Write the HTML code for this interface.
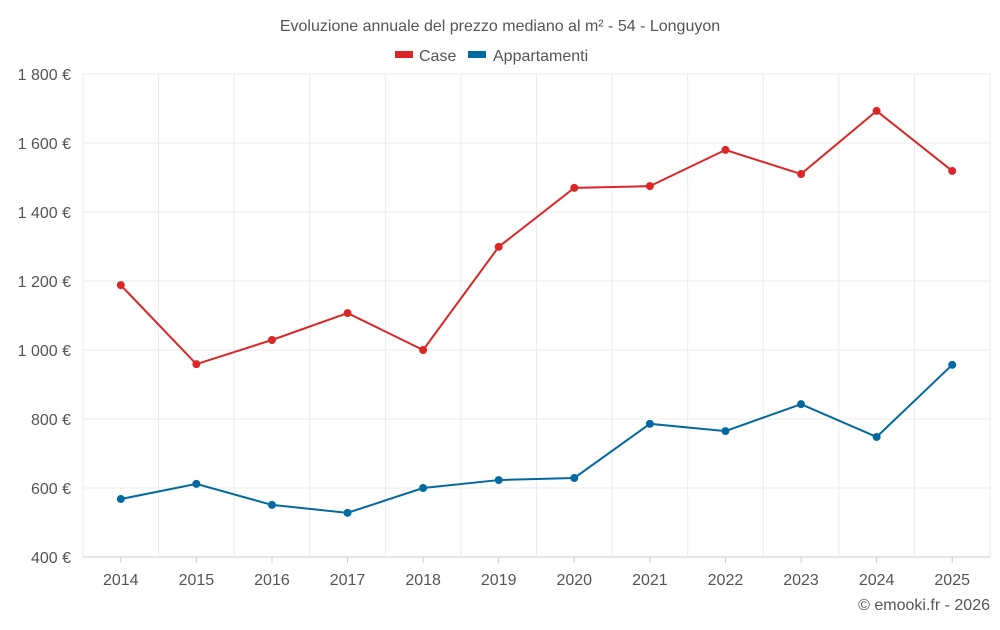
<!DOCTYPE html>
<html><head><meta charset="utf-8">
<style>
body{margin:0;background:#fff;width:1000px;height:625px;overflow:hidden;font-family:"Liberation Sans",sans-serif;}
svg text{font-family:"Liberation Sans",sans-serif;fill:#555;}
</style></head>
<body>
<svg id="chart" width="1000" height="625">
<text x="500" y="31" text-anchor="middle" font-size="16">Evoluzione annuale del prezzo mediano al m² - 54 - Longuyon</text>
<g>
<rect x="395" y="51" width="18" height="7" fill="#dc2626"/>
<text x="419" y="61" font-size="16">Case</text>
<rect x="468" y="51" width="18" height="7" fill="#0369a1"/>
<text x="493" y="61" font-size="16">Appartamenti</text>
</g>
<g id="grid"></g><g id="axes"></g><g id="series"></g>
<text x="990" y="610" text-anchor="end" font-size="16">© emooki.fr - 2026</text>
</svg>
<script>
const years=["2014","2015","2016","2017","2018","2019","2020","2021","2022","2023","2024","2025"];
const caseValues=[1188,959,1029,1107,1000,1299,1470,1475,1580,1510,1693,1519];
const appValues=[568,612,551,528,600,623,629,786,765,843,748,957];
const yTicks=[400,600,800,1000,1200,1400,1600,1800];
const yTickLabels=["400 €","600 €","800 €","1 000 €","1 200 €","1 400 €","1 600 €","1 800 €"];
const NS="http://www.w3.org/2000/svg";
const L=83,R=990,T=74,B=557,yMin=400,yMax=1800;
const band=(R-L)/years.length;
const xS=i=>L+band*(i+0.5);
const yS=v=>B-(v-yMin)/(yMax-yMin)*(B-T);
function mk(tag,attrs,parent){const e=document.createElementNS(NS,tag);for(const k in attrs)e.setAttribute(k,attrs[k]);parent.appendChild(e);return e;}
const grid=document.getElementById('grid'),axes=document.getElementById('axes'),series=document.getElementById('series');
yTicks.forEach((v,i)=>{
 const ln=mk('line',{x1:L,x2:R,y1:yS(v),y2:yS(v),stroke:i==0?'#ccc':'#ebebeb','stroke-width':1},grid);
 
 
 const t=mk('text',{x:L-12,y:yS(v)+6,'text-anchor':'end','font-size':16},axes);
 t.textContent=yTickLabels[i];
 
 
});
for(let i=0;i<=years.length;i++){
 const x=L+band*i;
 const ln=mk('line',{x1:x,x2:x,y1:T,y2:B,stroke:'#ebebeb','stroke-width':1},grid);
 
 
}
years.forEach((y,i)=>{
 const tk=mk('line',{x1:xS(i),x2:xS(i),y1:B,y2:B+6,stroke:'#ccc'},axes);
 
 
 const t=mk('text',{x:xS(i),y:B+28,'text-anchor':'middle','font-size':16},axes);
 t.textContent=y;
 
 
});
function draw(vals,color,name){
 const p=mk('polyline',{points:vals.map((v,i)=>xS(i)+','+yS(v)).join(' '),fill:'none',stroke:color,'stroke-width':2},series);
 
 
 vals.forEach((v,i)=>{
  const c=mk('circle',{cx:xS(i),cy:yS(v),r:4,fill:color},series);
  
  
 });
}
draw(caseValues,'#dc2626','case');
draw(appValues,'#0369a1','appartamenti');
</script>
</body></html>
